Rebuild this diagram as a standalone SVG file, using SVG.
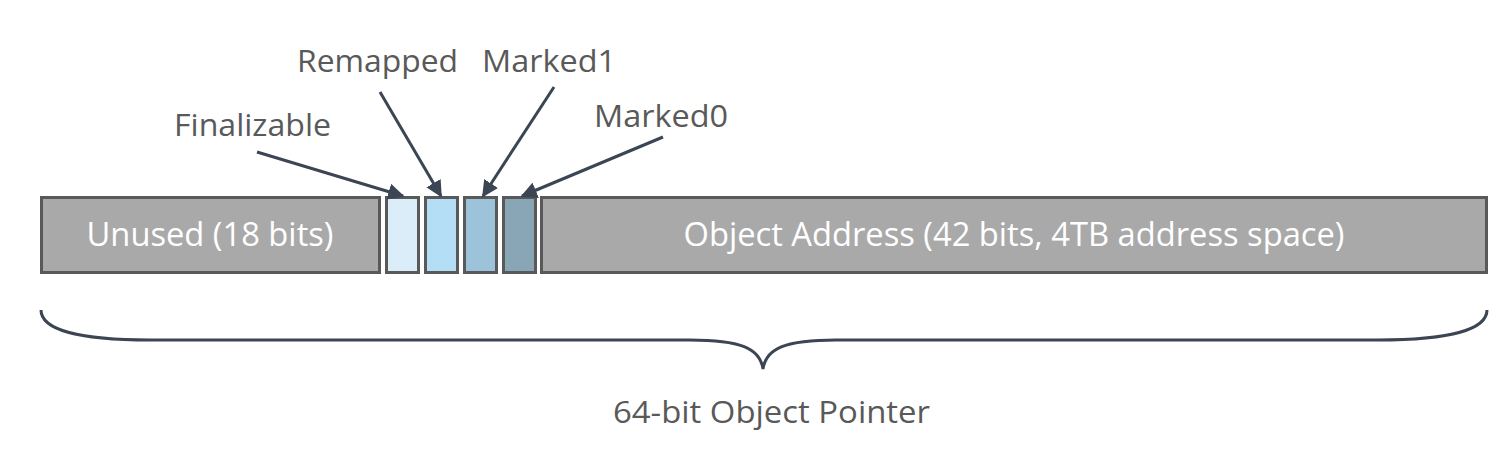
<svg xmlns="http://www.w3.org/2000/svg" width="1512" height="454" viewBox="0 0 1512 454">
<style>
.seg{stroke:#595959;stroke-width:3}
.lbl{font-family:"Open Sans","Liberation Sans",sans-serif;font-size:31px;fill:#595959;text-anchor:middle}
.in{font-family:"Open Sans","Liberation Sans",sans-serif;font-size:32px;fill:#ffffff;text-anchor:middle}
.arr{stroke:#3b4554;stroke-width:3;fill:none;marker-end:url(#ah)}
</style>
<defs>
<marker id="ah" viewBox="0 0 10 10" refX="9" refY="5" markerWidth="5.5" markerHeight="5.5" orient="auto" markerUnits="strokeWidth">
<path d="M0,0 L10,5 L0,10 Z" fill="#3b4554"/>
</marker>
</defs>
<rect width="1512" height="454" fill="#ffffff"/>
<g id="unused">
<rect class="seg" x="41.5" y="197.5" width="338" height="75" fill="#a9a9aa"/>
<text class="in" x="210" y="246" textLength="247" lengthAdjust="spacingAndGlyphs">Unused (18 bits)</text>
</g>
<g id="bit-finalizable"><rect class="seg" x="386.5" y="197.5" width="32" height="75" fill="#dbedf8"/></g>
<g id="bit-remapped"><rect class="seg" x="425.5" y="197.5" width="32" height="75" fill="#b3def5"/></g>
<g id="bit-marked1"><rect class="seg" x="464.5" y="197.5" width="32" height="75" fill="#9cc3d9"/></g>
<g id="bit-marked0"><rect class="seg" x="503.5" y="197.5" width="32" height="75" fill="#88a6b6"/></g>
<g id="address">
<rect class="seg" x="541.5" y="197.5" width="945" height="75" fill="#a9a9aa"/>
<text class="in" x="1014" y="246" textLength="661" lengthAdjust="spacingAndGlyphs">Object Address (42 bits, 4TB address space)</text>
</g>
<g id="label-finalizable"><text class="lbl" x="252.5" y="136" textLength="157" lengthAdjust="spacingAndGlyphs">Finalizable</text></g>
<g id="label-remapped"><text class="lbl" x="377.5" y="72" textLength="161" lengthAdjust="spacingAndGlyphs">Remapped</text></g>
<g id="label-marked1"><text class="lbl" x="549" y="72" textLength="134" lengthAdjust="spacingAndGlyphs">Marked1</text></g>
<g id="label-marked0"><text class="lbl" x="661" y="127" textLength="134" lengthAdjust="spacingAndGlyphs">Marked0</text></g>
<g id="label-pointer"><text class="lbl" x="771.5" y="423" textLength="317" lengthAdjust="spacingAndGlyphs">64-bit Object Pointer</text></g>
<g id="connectors">
<line class="arr" x1="257" y1="152" x2="403" y2="196"/>
<line class="arr" x1="380" y1="92" x2="441" y2="196"/>
<line class="arr" x1="554" y1="87" x2="483" y2="196"/>
<line class="arr" x1="663" y1="137" x2="522" y2="196"/>
<path d="M41,310 C41,330 80,340 150,340 L690,340 C740,340 760,348 763,369 C766,348 786,340 836,340 L1378,340 C1448,340 1487,330 1487,310" fill="none" stroke="#3b4554" stroke-width="3"/>
</g>
</svg>
